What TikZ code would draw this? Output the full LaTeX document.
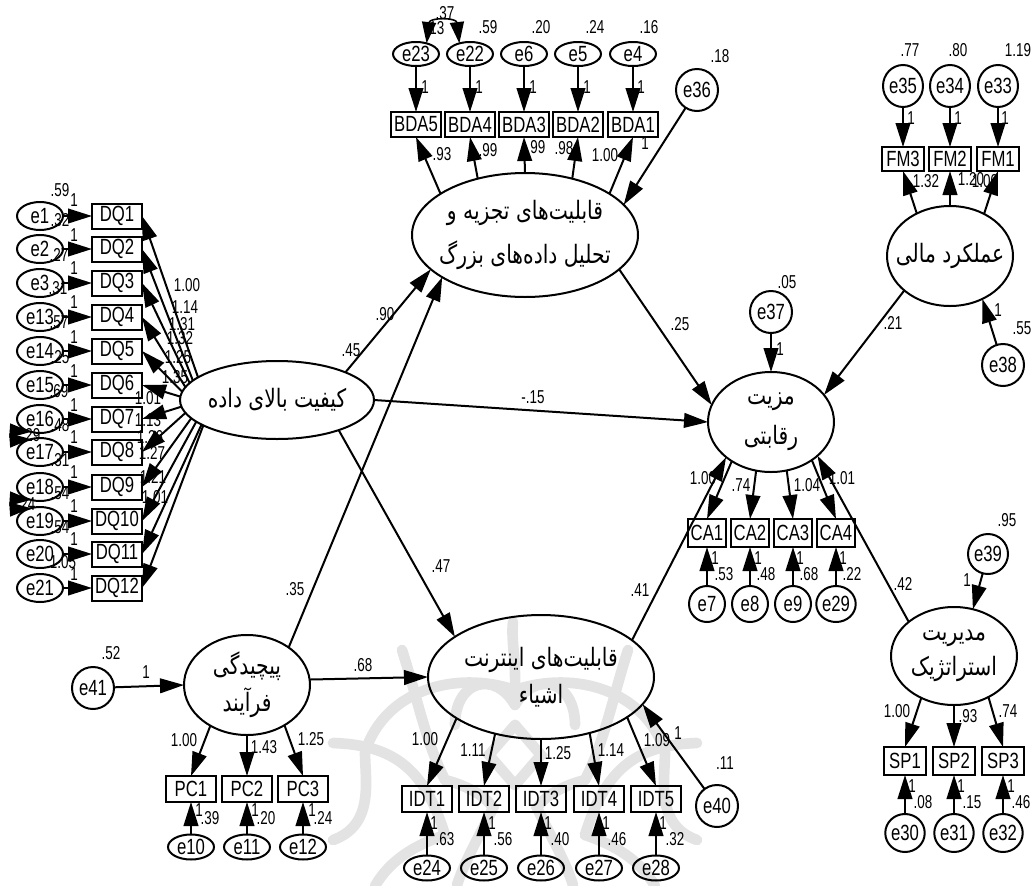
\documentclass[tikz,border=0pt]{standalone}
\usepackage{fontspec}
\usetikzlibrary{arrows.meta,shapes.geometric}
\setmainfont{Liberation Sans}
\newfontfamily\nmfont[FakeStretch=0.76]{Liberation Sans}
\newfontfamily\lbfont[FakeStretch=0.72]{Liberation Sans}
\newfontfamily\arfont[Script=Arabic,FakeStretch=0.8]{DejaVu Sans}
\TeXXeTstate=1
\newcount\lbc
\newcommand\lb[3]{\global\advance\lbc by 1 \node[lbl] (lab\the\lbc) at (#1,#2) {#3};}
\tikzset{
  x=0.75pt,y=-0.75pt,
  shp/.style={draw=black,line width=1.5pt,inner sep=0pt,outer sep=0pt},
  latent/.style={shp,ellipse,minimum width=#1},
  item/.style={shp,rectangle,font=\nmfont\fontsize{16.5}{16.5}\selectfont},
  errnode/.style={shp,ellipse,font=\nmfont\fontsize{16.5}{16.5}\selectfont},
  lbl/.style={inner sep=0pt,font=\lbfont\fontsize{14}{14}\selectfont},
  ltx/.style={inner sep=0pt,align=center,font=\arfont\fontsize{19}{19}\selectfont},
  arr/.style={line width=1.5pt,-{Triangle[length=18pt,width=11pt]}},
  dbl/.style={line width=1.2pt,{Triangle[length=16pt,width=10.5pt]}-{Triangle[length=16pt,width=10.5pt]}},
  wmark/.style={draw=black!11,line width=8pt,line cap=round},
}
\begin{document}
\begin{tikzpicture}
\useasboundingbox (0,0) rectangle (1033,886);
% watermark
\foreach \s in {1,-1}{
\begin{scope}[shift={(515,0)},xscale=\s]
\draw[wmark] (-113,650) .. controls (-97,700) and (-90,740) .. (-70,780);
\draw[wmark] (-182,743) .. controls (-120,745) and (-90,770) .. (-70,835);
\draw[wmark] (-182,840) .. controls (-140,825) and (-150,780) .. (-150,752);
\draw[wmark] (-150,752) .. controls (-130,690) and (-60,670) .. (0,690);
\draw[wmark] (-60,725) .. controls (-60,680) and (-20,670) .. (0,705);
\draw[wmark] (-70,780) .. controls (-50,785) and (-30,795) .. (-22,808) .. controls (-35,835) and (-50,860) .. (-58,885);
\draw[wmark] (-140,886) .. controls (-125,860) and (-100,845) .. (-70,835);
\draw[wmark] (0,725) -- (-26,755) -- (0,785);
\end{scope}
}
\draw[wmark] (513,622) .. controls (511,640) and (516,660) .. (515,690);

% latent variables
\node[latent=226*0.75pt,minimum height=124*0.75pt,label={[ltx]center:{\beginR قابلیت‌های تجزیه و\endR\\[10pt]\beginR تحلیل داده‌های بزرگ\endR}}] (BDA) at (525,235) {};
\node[latent=194*0.75pt,minimum height=78*0.75pt,label={[ltx]center:{\beginR کیفیت بالای داده\endR}}] (HQ) at (277,400) {};
\node[latent=126*0.75pt,minimum height=100*0.75pt,label={[ltx]center:{\beginR پیچیدگی\endR\\[4pt]\beginR فرآیند\endR}}] (PCX) at (247,685) {};
\node[latent=226*0.75pt,minimum height=124*0.75pt,label={[ltx]center:{\beginR قابلیت‌های اینترنت\endR\\[8pt]\beginR اشیاء\endR}}] (IOT) at (541,677) {};
\node[latent=126*0.75pt,minimum height=100*0.75pt,label={[ltx]center:{\beginR مزیت\endR\\[10pt]\beginR رقابتی\endR}}] (CAD) at (771,422) {};
\node[latent=126*0.75pt,minimum height=100*0.75pt,label={[ltx]center:{\beginR عملکرد مالی\endR}}] (FIN) at (950,256) {};
\node[latent=126*0.75pt,minimum height=98*0.75pt,label={[ltx]center:{\beginR مدیریت\endR\\[6pt]\beginR استراتژیک\endR}}] (STR) at (954,656) {};

% DQ items and errors
\foreach \n/\e/\y/\a in {1/1/216/164.4,2/2/249/167.9,3/3/283/169.6,4/13/317/172.6,5/14/351/175.2,6/15/385/178.2,7/16/419/184.8,8/17/452/188,9/18/487/192.7,10/19/521/195,11/20/554/198,12/21/588/199.5}{
  \node[item,minimum width=50*0.75pt,minimum height=25*0.75pt] (DQ\n) at (117,\y) {DQ\n};
  \node[errnode,minimum width=46*0.75pt,minimum height=28*0.75pt] (e\e) at (40,\y) {e\e};
  \draw[arr] (e\e) -- (DQ\n);
  \draw[arr] (HQ.\a) -- (DQ\n.east);
}
% BDA
\foreach \n/\e/\x/\a in {5/23/416/154.8,4/22/470/130.1,3/6/524/90,2/5/578/50.5,1/4/633/26}{
  \node[item,minimum width=50*0.75pt,minimum height=25*0.75pt] (BDA\n) at (\x,124.5) {BDA\n};
  \node[errnode,minimum width=46*0.75pt,minimum height=24*0.75pt] (e\e) at (\x,54) {e\e};
  \draw[arr] (e\e) -- (BDA\n);
  \draw[arr] (BDA.\a) -- (BDA\n.south);
}
\node[errnode,minimum width=42*0.75pt,minimum height=42*0.75pt] (e36) at (697,90) {e36};
\draw[arr] (e36) -- (BDA.17.7);
% FIN
\foreach \n/\e/\x/\a in {3/35/903/128.3,2/34/950/90,1/33/998/51.7}{
  \node[item,minimum width=42*0.75pt,minimum height=24*0.75pt] (FM\n) at (\x,159) {FM\n};
  \node[errnode,minimum width=40*0.75pt,minimum height=42*0.75pt] (e\e) at (\x,86) {e\e};
  \draw[arr] (e\e) -- (FM\n);
  \draw[arr] (FIN.\a) -- (FM\n.south);
}
\node[errnode,minimum width=42*0.75pt,minimum height=42*0.75pt] (e38) at (1003,365) {e38};
\draw[arr] (e38) -- (FIN.-53);
% CA
\foreach \n/\e/\x/\a in {1/7/707/-135.7,2/8/750/-107,3/9/793/-72,4/29/836/-43.6}{
  \node[item,minimum width=38*0.75pt,minimum height=28*0.75pt] (CA\n) at (\x,533) {CA\n};
  \node[errnode,minimum width=36*0.75pt,minimum height=36*0.75pt] (e\e) at (\x,604) {e\e};
  \draw[arr] (e\e) -- (CA\n);
  \draw[arr] (CAD.\a) -- (CA\n.north);
}
\node[errnode,minimum width=42*0.75pt,minimum height=42*0.75pt] (e37) at (771,312) {e37};
\draw[arr] (e37) -- (CAD.north);
\draw[arr] (FIN.217) -- (CAD.27.4);
\draw[arr] (BDA.-20) -- (CAD.164);
\draw[arr] (HQ.east) -- (CAD.west);
\draw[arr] (HQ.22.3) -- (BDA.200.9);
\draw[arr] (HQ.-26) -- (IOT.155);
\draw[arr] (PCX.42.8) -- (BDA.207.3);
\draw[arr] (PCX.5) -- (IOT.west);
\draw[arr] (IOT.22.2) -- (CAD.-142);
\draw[arr] (STR.143.3) -- (CAD.-36.7);
% STR
\foreach \n/\e/\x/\a in {1/30/905/-128.3,2/31/954/-90,3/32/1003/-50.9}{
  \node[item,minimum width=42*0.75pt,minimum height=28*0.75pt] (SP\n) at (\x,761) {SP\n};
  \node[errnode,minimum width=38*0.75pt,minimum height=38*0.75pt] (e\e) at (\x,833) {e\e};
  \draw[arr] (e\e) -- (SP\n);
  \draw[arr] (STR.\a) -- (SP\n.north);
}
\node[errnode,minimum width=40*0.75pt,minimum height=40*0.75pt] (e39) at (988,554) {e39};
\draw[arr] (e39) -- (STR.68);
% IDT
\foreach \n/\e/\x/\a in {1/24/427/-154.8,2/25/484/-129.6,3/26/541/-90,4/27/599/-49.8,5/28/656/-25.2}{
  \node[item,minimum width=50*0.75pt,minimum height=26*0.75pt] (IDT\n) at (\x,799) {IDT\n};
  \node[errnode,minimum width=46*0.75pt,minimum height=25*0.75pt] (e\e) at (\x,868) {e\e};
  \draw[arr] (e\e) -- (IDT\n);
  \draw[arr] (IOT.\a) -- (IDT\n.north);
}
\node[errnode,minimum width=42*0.75pt,minimum height=42*0.75pt] (e40) at (717,806) {e40};
\draw[arr] (e40) -- (IOT.-15.4);
% PC
\foreach \n/\e/\x/\a in {1/10/191/-132.1,2/11/247/-90,3/12/303/-47.1}{
  \node[item,minimum width=50*0.75pt,minimum height=26*0.75pt] (PC\n) at (\x,789) {PC\n};
  \node[errnode,minimum width=46*0.75pt,minimum height=25*0.75pt] (e\e) at (\x,847) {e\e};
  \draw[arr] (e\e) -- (PC\n);
  \draw[arr] (PCX.\a) -- (PC\n.north);
}
\node[errnode,minimum width=42*0.75pt,minimum height=42*0.75pt] (e41) at (93,688) {e41};
\draw[arr] (e41) -- (PCX.west);
% covariances
\draw[dbl] (e23.45) .. controls +(3,-26) and +(-3,-26) .. (e22.135);
\draw[dbl] (e16.235) .. controls +(-16,-1) and +(-16,1) .. (e17.125);
\draw[dbl] (e18.235) .. controls +(-16,-1) and +(-16,1) .. (e19.125);

% labels
\foreach \x/\y/\t in {60/190/.59,60/220/.32,59/255/.27,58/288/.31,59/322/.57,60/357/.25,59/391/.69,60/425/.48,60/460/.31,60/493/.54,60/527/.54,63/562/1.05,31/435/.29,26/504/.24,
 74/200/1,74/235/1,74/268/1,74/302/1,74/337/1,74/371/1,74/405/1,74/437/1,74/472/1,74/506/1,74/539/1,74/574/1,
 187/285/1.00,185/307/1.14,182/324/1.31,180/338/1.32,178/357/1.25,175/377/1.35,148/398/1.01,148/420/1.13,150/437/1.26,152/453/1.27,153/477/1.21,155/497/1.01,
 435/28/.13,445/13/.37,488/27/.59,541/27/.20,595/27/.24,649/27/.16,720/56/.18,
 425/87/1,479/87/1,533/87/1,587/87/1,641/87/1,645/143/1,
 442/154/.93,488/150/.99,536/147/.99,564/148/.98,605/155/1.00,
 910/50/.77,958/50/.80,1018/50/1.19,
 911/118/1,958/118/1,1005/118/1,
 926/181/1.32,971/179/1.20,985/181/1.00,
 998/310/1,1022/328/.55,893/323/.21,680/324/.25,787/282/.05,780/349/1,
 385/314/.90,351/350/.45,533/397/-.15,441/566/.47,295/589/.35,363/665/.68,640/590/.41,903/584/.42,
 703/478/1.00,741/485/.74,807/485/1.04,842/478/1.01,
 715/558/1,758/558/1,800/558/1,843/558/1,724/574/.53,766/574/.48,809/574/.68,852/574/.22,
 1007/520/.95,967/580/1,
 897/711/1.00,968/716/.93,1008/711/.74,
 912/786/1,961/786/1,1011/786/1,923/802/.08,972/802/.15,1021/802/.46,
 425/739/1.00,473/750/1.11,558/753/1.25,611/750/1.14,657/740/1.09,678/733/1,725/763/.11,
 434/823/1,492/823/1,548/823/1,606/823/1,663/823/1,445/839/.63,503/839/.56,560/839/.40,617/839/.46,675/839/.32,
 111/653/.52,146/672/1,
 184/740/1.00,264/747/1.43,311/739/1.25,
 199/810/1,255/810/1,312/810/1,210/818/.39,266/818/.20,323/818/.24}{
  \lb{\x}{\y}{\t}
}
\end{tikzpicture}
\end{document}
